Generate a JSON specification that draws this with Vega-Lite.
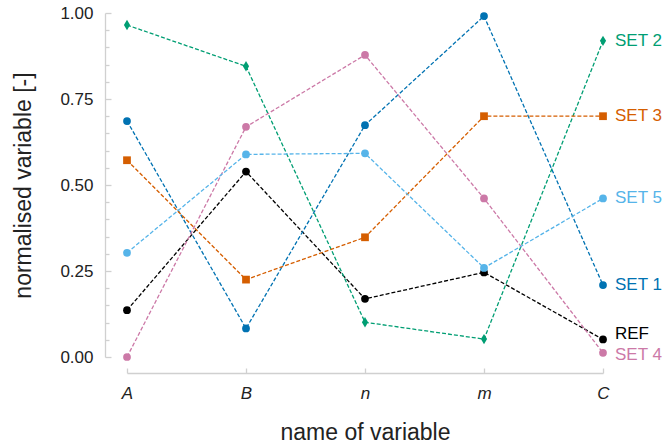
{
  "$schema": "https://vega.github.io/schema/vega-lite/v6.json",
  "width": 476,
  "height": 344,
  "autosize": {"type": "none"},
  "padding": {"left": 127, "top": 13, "right": 61, "bottom": 89},
  "config": {
    "view": {"stroke": null},
    "font": "Liberation Sans",
    "axis": {
      "domainColor": "#d0d0d0",
      "domainWidth": 1.3,
      "tickColor": "#d0d0d0",
      "tickWidth": 1.3,
      "grid": false,
      "labelFont": "Liberation Sans",
      "labelFontSize": 17,
      "labelColor": "#222222",
      "titleFont": "Liberation Sans",
      "titleFontSize": 23,
      "titleFontWeight": "normal",
      "titleColor": "#222222"
    }
  },
  "data": {
    "values": [
      {"series": "REF", "var": "A", "value": 0.136},
      {"series": "REF", "var": "B", "value": 0.539},
      {"series": "REF", "var": "n", "value": 0.169},
      {"series": "REF", "var": "m", "value": 0.246},
      {"series": "REF", "var": "C", "value": 0.051},
      {"series": "SET 1", "var": "A", "value": 0.686},
      {"series": "SET 1", "var": "B", "value": 0.083},
      {"series": "SET 1", "var": "n", "value": 0.674},
      {"series": "SET 1", "var": "m", "value": 0.991},
      {"series": "SET 1", "var": "C", "value": 0.209},
      {"series": "SET 2", "var": "A", "value": 0.965},
      {"series": "SET 2", "var": "B", "value": 0.845},
      {"series": "SET 2", "var": "n", "value": 0.101},
      {"series": "SET 2", "var": "m", "value": 0.052},
      {"series": "SET 2", "var": "C", "value": 0.919},
      {"series": "SET 3", "var": "A", "value": 0.572},
      {"series": "SET 3", "var": "B", "value": 0.225},
      {"series": "SET 3", "var": "n", "value": 0.348},
      {"series": "SET 3", "var": "m", "value": 0.700},
      {"series": "SET 3", "var": "C", "value": 0.700},
      {"series": "SET 4", "var": "A", "value": 0.0},
      {"series": "SET 4", "var": "B", "value": 0.669},
      {"series": "SET 4", "var": "n", "value": 0.878},
      {"series": "SET 4", "var": "m", "value": 0.461},
      {"series": "SET 4", "var": "C", "value": 0.012},
      {"series": "SET 5", "var": "A", "value": 0.303},
      {"series": "SET 5", "var": "B", "value": 0.589},
      {"series": "SET 5", "var": "n", "value": 0.592},
      {"series": "SET 5", "var": "m", "value": 0.259},
      {"series": "SET 5", "var": "C", "value": 0.461}
    ]
  },
  "encoding": {
    "x": {
      "field": "var",
      "type": "ordinal",
      "sort": ["A", "B", "n", "m", "C"],
      "scale": {"type": "point", "padding": 0},
      "axis": {
        "title": "name of variable",
        "labelAngle": 0,
        "labelFontStyle": "italic",
        "offset": 16,
        "tickSize": -5,
        "labelPadding": 17,
        "titlePadding": 20
      }
    },
    "y": {
      "field": "value",
      "type": "quantitative",
      "scale": {"domain": [0, 1], "nice": false, "zero": false},
      "axis": {
        "title": "normalised variable [-]",
        "values": [0, 0.05, 0.1, 0.15, 0.2, 0.25, 0.3, 0.35, 0.4, 0.45, 0.5, 0.55, 0.6, 0.65, 0.7, 0.75, 0.8, 0.85, 0.9, 0.95, 1],
        "format": ".2f",
        "labelExpr": "indexof(['0.00','0.25','0.50','0.75','1.00'], datum.label) >= 0 ? datum.label : ''",
        "offset": 22,
        "tickSize": {"condition": {"test": "abs(datum.value*4 - round(datum.value*4)) < 0.000001", "value": -6}, "value": -4},
        "labelPadding": 18,
        "titlePadding": 24
      }
    },
    "color": {
      "field": "series",
      "type": "nominal",
      "scale": {
        "domain": ["REF", "SET 1", "SET 2", "SET 3", "SET 4", "SET 5"],
        "range": ["#000000", "#0072B2", "#009E73", "#D55E00", "#CC79A7", "#56B4E9"]
      },
      "legend": null
    }
  },
  "layer": [
    {
      "mark": {"type": "line", "strokeDash": [4, 2], "strokeWidth": 1.3}
    },
    {
      "mark": {"type": "point", "filled": true, "opacity": 1, "size": 60},
      "encoding": {
        "shape": {
          "field": "series",
          "type": "nominal",
          "scale": {
            "domain": ["REF", "SET 1", "SET 2", "SET 3", "SET 4", "SET 5"],
            "range": ["circle", "circle", "M0,-1.35L0.8,0L0,1.35L-0.8,0Z", "square", "circle", "circle"]
          },
          "legend": null
        }
      }
    },
    {
      "transform": [{"filter": "datum.var == 'C' && datum.series != 'REF' && datum.series != 'SET 4'"}],
      "mark": {"type": "text", "align": "left", "baseline": "middle", "dx": 12, "fontSize": 17, "font": "Liberation Sans"},
      "encoding": {"text": {"field": "series"}}
    },
    {
      "transform": [{"filter": "datum.var == 'C' && datum.series == 'REF'"}],
      "mark": {"type": "text", "align": "left", "baseline": "middle", "dx": 12, "dy": -5, "fontSize": 17, "font": "Liberation Sans"},
      "encoding": {"text": {"field": "series"}}
    },
    {
      "transform": [{"filter": "datum.var == 'C' && datum.series == 'SET 4'"}],
      "mark": {"type": "text", "align": "left", "baseline": "middle", "dx": 12, "dy": 2, "fontSize": 17, "font": "Liberation Sans"},
      "encoding": {"text": {"field": "series"}}
    }
  ]
}
